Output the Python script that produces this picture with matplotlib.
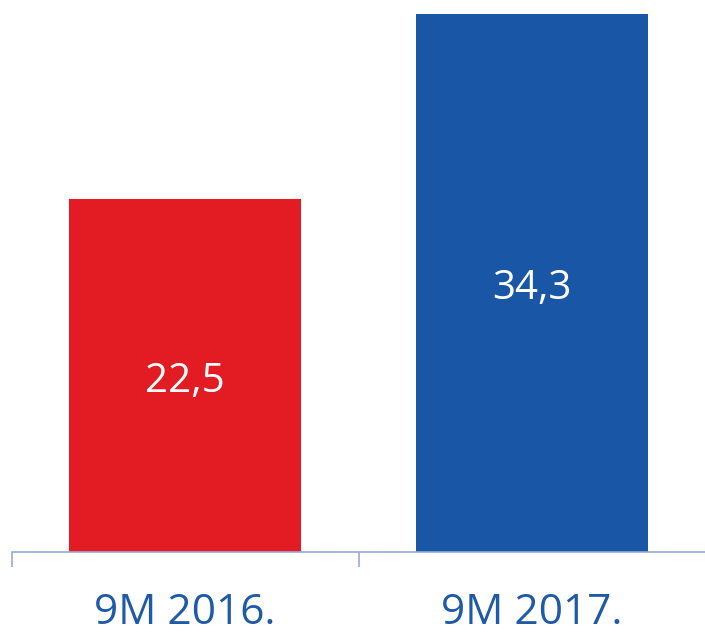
import matplotlib
matplotlib.use("Agg")
import matplotlib.pyplot as plt

categories = ["9M 2016.", "9M 2017."]
values = [22.5, 34.3]
value_labels = ["22,5", "34,3"]
colors = ["#E31B23", "#1A56A6"]

plt.rcParams['font.family'] = ['Open Sans', 'DejaVu Sans']

fig = plt.figure(figsize=(7.05, 6.33), dpi=100)
ax = fig.add_axes([12/705, 81/633, 693/705, 552/633])

x = list(range(len(categories)))
bars = ax.bar(x, values, width=0.67, color=colors, zorder=2)
for b, lab in zip(bars, value_labels):
    ax.text(b.get_x() + b.get_width()/2, b.get_height()/2 - 0.4, lab,
            ha='center', va='center', color='white', fontsize=29)

ax.set_xlim(-0.5, len(categories) - 0.5)
ax.set_ylim(0, 35.16)
for s in ['left', 'right', 'top']:
    ax.spines[s].set_visible(False)
ax.spines['bottom'].set_color('#9AAAD2')
ax.spines['bottom'].set_linewidth(1.2)
ax.set_yticks([])
ax.set_xticks(x)
ax.set_xticklabels(categories, fontsize=30.5, color='#1F5AA6')
ax.tick_params(axis='x', which='major', length=0, pad=29)
ax.set_xticks([-0.5, 0.5], minor=True)
ax.tick_params(axis='x', which='minor', length=11, width=1.2, color='#9AAAD2')

fig.savefig("out.png", dpi=100)
